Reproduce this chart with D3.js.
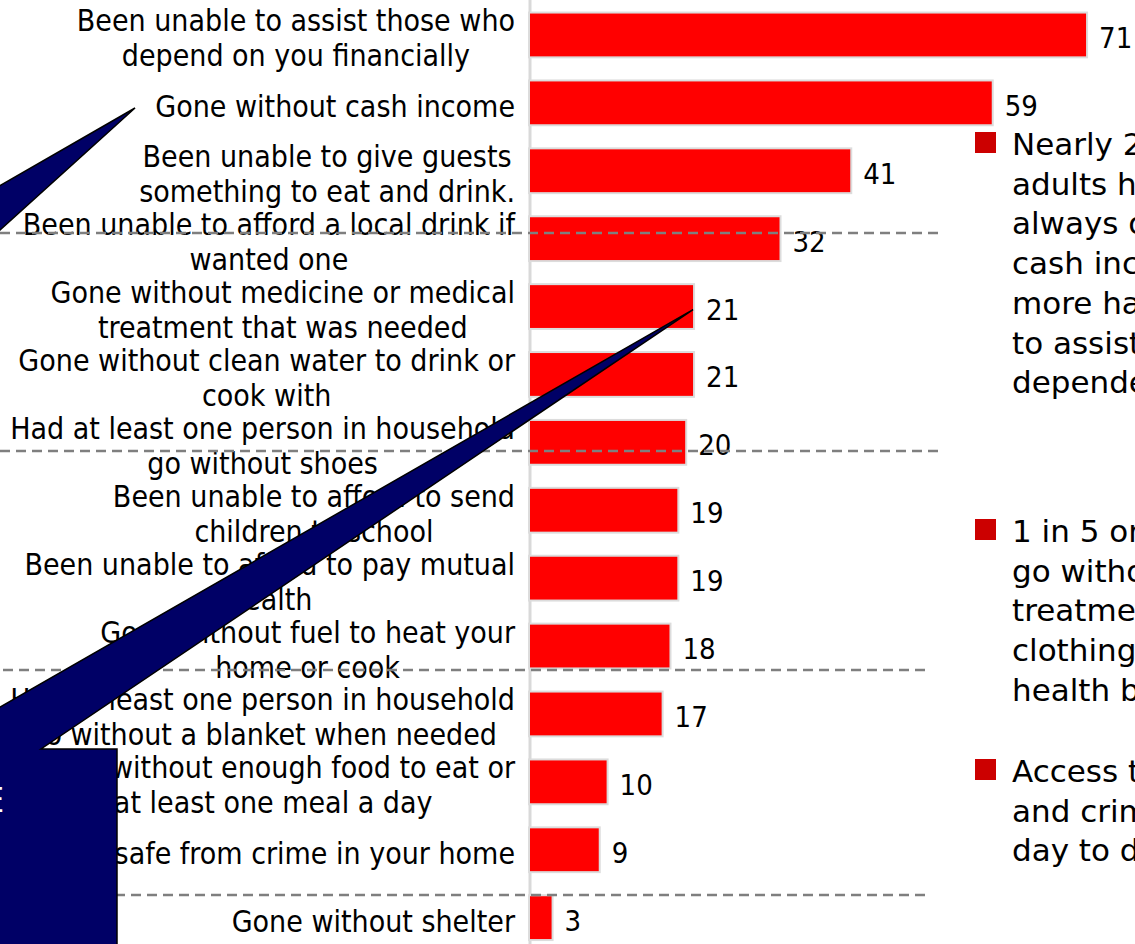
<!DOCTYPE html>
<html>
<head>
<meta charset="utf-8">
<script src="https://cdn.jsdelivr.net/npm/d3@7"></script>
<style>
  html, body { margin: 0; padding: 0; background: #fff; overflow: hidden; }
  svg { display: block; }
</style>
</head>
<body>
<svg id="chart" width="1135" height="944"></svg>
<script>
// Share of adults reporting each hardship (%), lines of each label split by "\n"
const categories = [
  "Been unable to assist those who\ndepend on you financially",
  "Gone without cash income",
  "Been unable to give guests\nsomething to eat and drink.",
  "Been unable to afford a local drink if\nwanted one",
  "Gone without medicine or medical\ntreatment that was needed",
  "Gone without clean water to drink or\ncook with",
  "Had at least one person in household\ngo without shoes",
  "Been unable to afford to send\nchildren to school",
  "Been unable to afford to pay mutual\nhealth",
  "Gone without fuel to heat your\nhome or cook",
  "Had at least one person in household\ngo without a blanket when needed",
  "Gone without enough food to eat or\nat least one meal a day",
  "Felt unsafe from crime in your home",
  "Gone without shelter"
];
const values = [71, 59, 41, 32, 21, 21, 20, 19, 19, 18, 17, 10, 9, 3];

// Key points listed beside the chart
const notes = [
  ["Nearly 2 in 3", "adults have not", "always or ever had", "cash income and", "more have been", "to assist their", "dependents"],
  ["1 in 5 or more", "go without medical", "treatment, shoes,", "clothing, fuel or", "health benefits"],
  ["Access to food", "and crime affect", "day to day life"]
];

const W = 1135, H = 944;
const FONT = "'DejaVu Sans Condensed','DejaVu Sans',sans-serif";
const NOTE_FONT = "'DejaVu Sans',sans-serif";
const svg = d3.select("#chart");

const x = d3.scaleLinear().domain([0, 75]).range([529, 529 + 75 * 7.86]);
const y = d3.scaleBand().domain(categories).range([1, 951.6])
  .paddingInner(0.34).paddingOuter(0.17);
const mid = c => y(c) + y.bandwidth() / 2;

// value axis line
svg.append("line")
  .attr("x1", 530).attr("x2", 530).attr("y1", 0).attr("y2", H)
  .attr("stroke", "#d9d9d9").attr("stroke-width", 3);

// bars
svg.append("g").selectAll("rect").data(categories).join("rect")
  .attr("x", x(0))
  .attr("y", c => y(c))
  .attr("width", (c, i) => x(values[i]) - x(0))
  .attr("height", y.bandwidth())
  .attr("fill", "#ff0000")
  .attr("stroke", "#dcdcdc")
  .attr("stroke-width", 2);

// value labels
svg.append("g").selectAll("text").data(categories).join("text")
  .attr("x", (c, i) => x(values[i]) + 12)
  .attr("y", c => mid(c) + 13)
  .attr("font-family", FONT).attr("font-stretch", "condensed")
  .attr("font-size", 29).attr("fill", "#000")
  .text((c, i) => values[i]);

// category labels: lines centred on each other, block right-aligned to the axis
const labelRight = 515, lineGap = 35;
const labels = svg.append("g");
categories.forEach(c => {
  const lines = c.split("\n");
  const g = labels.append("g");
  const ts = lines.map(l => g.append("text")
    .attr("font-family", FONT).attr("font-stretch", "condensed")
    .attr("font-size", 30).attr("fill", "#000").text(l));
  const maxW = d3.max(ts, t => t.node().getComputedTextLength());
  const cy = mid(c) + 4;
  ts.forEach((t, i) => {
    t.attr("text-anchor", "middle")
      .attr("x", labelRight - maxW / 2)
      .attr("y", cy + (i - (lines.length - 1) / 2) * lineGap + 10);
  });
});

// dashed separators
const seps = [[233, 0, 938], [451, 0, 938], [670, 3, 929], [895, 3, 930]];
svg.append("g").selectAll("line").data(seps).join("line")
  .attr("x1", d => d[1]).attr("x2", d => d[2])
  .attr("y1", d => d[0]).attr("y2", d => d[0])
  .attr("stroke", "#7f7f7f").attr("stroke-width", 2.6)
  .attr("stroke-dasharray", "10,6");

// callout pointing at the cash income label (body lies off to the left)
svg.append("path")
  .attr("d", "M135,108 L-30,203 L-30,257 Z")
  .attr("fill", "#000066").attr("stroke", "#000").attr("stroke-width", 1.5);

// callout pointing at the medicine bar
const tipX = x(21) - 1, tipY = mid(categories[4]) + 3;
const boxTop = 749, boxRight = 117;
svg.append("path")
  .attr("d", `M-300,${boxTop} L-73,${boxTop} L${tipX},${tipY} L41,${boxTop} L${boxRight},${boxTop} L${boxRight},1000 L-300,1000 Z`)
  .attr("fill", "#000066").attr("stroke", "#000").attr("stroke-width", 1.5);
svg.append("text")
  .attr("x", 4).attr("y", 812).attr("text-anchor", "end")
  .attr("font-family", FONT).attr("font-size", 34).attr("fill", "#fff")
  .text("E");

// bullet notes
const noteStarts = [143, 530, 770], noteGap = 39.7;
notes.forEach((lines, k) => {
  const top = noteStarts[k];
  svg.append("rect")
    .attr("x", 975).attr("y", top - 11).attr("width", 21).attr("height", 21)
    .attr("fill", "#cc0000");
  lines.forEach((l, i) => {
    svg.append("text")
      .attr("x", 1012).attr("y", top + i * noteGap + 12)
      .attr("font-family", NOTE_FONT)
      .attr("font-size", 31).attr("fill", "#000").text(l);
  });
});
</script>
</body>
</html>
